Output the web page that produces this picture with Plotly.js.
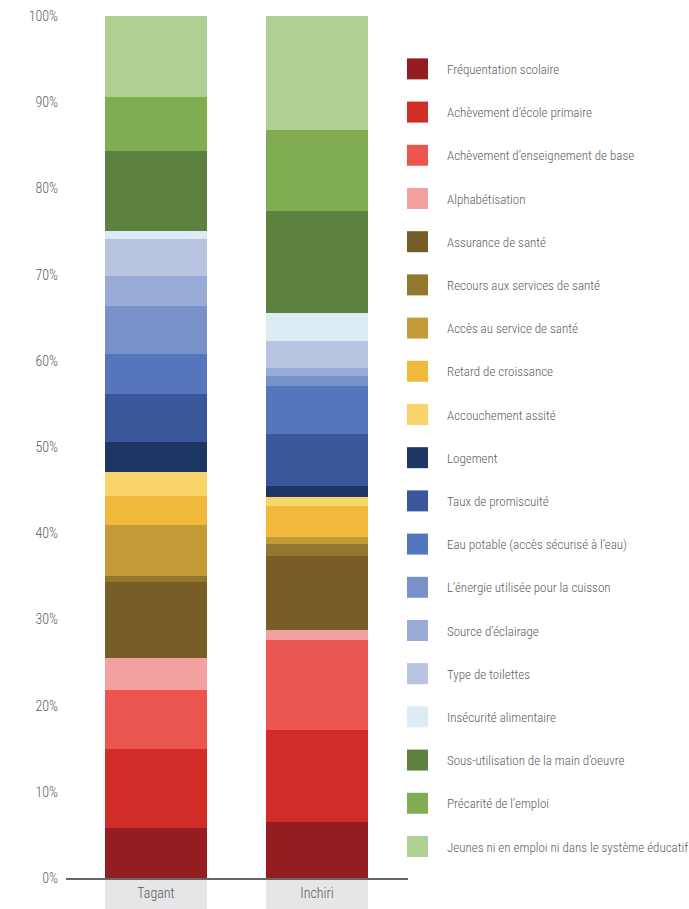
<!DOCTYPE html>
<html>
<head>
<meta charset="utf-8">
<script src="https://cdn.plot.ly/plotly-3.0.1.min.js"></script>
<style>
  html, body { margin: 0; padding: 0; background: #fff; }
  #chart { width: 689px; height: 909px; }
</style>
</head>
<body>
<div id="chart"></div>
<script>
// Categories (regions)
const regions = ['Tagant', 'Inchiri'];

// Indicator names (stack order bottom -> top)
const indicators = [
  'Fréquentation scolaire',
  'Achèvement d’école primaire',
  'Achèvement d’enseignement de base',
  'Alphabétisation',
  'Assurance de santé',
  'Recours aux services de santé',
  'Accès au service de santé',
  'Retard de croissance',
  'Accouchement assité',
  'Logement',
  'Taux de promiscuité',
  'Eau potable (accès sécurisé à l’eau)',
  'L’énergie utilisée pour la cuisson',
  'Source d’éclairage',
  'Type de toilettes',
  'Insécurité alimentaire',
  'Sous-utilisation de la main d’oeuvre',
  'Précarité de l’emploi',
  'Jeunes ni en emploi ni dans le système éducatif'
];

// Contributions (%) per indicator, same order as indicators
const tagantValues = [5.8, 9.17, 6.84, 3.71, 8.82, 0.70, 5.92, 3.36, 2.78, 3.48,
                      5.57, 4.64, 5.57, 3.48, 4.29, 0.96, 9.28, 6.27, 9.36];
const inchiriValues = [6.50, 10.67, 10.44, 1.16, 8.58, 1.39, 0.81, 3.60, 1.04, 1.28,
                       6.03, 5.57, 1.16, 0.93, 3.13, 3.25, 11.83, 9.40, 13.23];

const colors = ['#931d20', '#d12c27', '#ec5650', '#f2a0a0', '#775e27', '#93772f',
                '#c39a35', '#f1b93b', '#f7d56a', '#1e3663', '#39579a', '#5576bd',
                '#7891c8', '#98aad6', '#b8c4e0', '#ddebf5', '#5d823f', '#80ad52', '#b0d093'];

const yTickVals = [0, 10, 20, 30, 40, 50, 60, 70, 80, 90, 100];
const yTickText = ['0%', '10%', '20%', '30%', '40%', '50%', '60%', '70%', '80%', '90%', '100%'];

const barWidth = 0.634;
const FONT = '"Roboto Condensed", "Liberation Sans Narrow", Roboto, sans-serif';
const TEXT = '#5c5c5c';

const traces = indicators.map((name, i) => ({
  type: 'bar',
  name: name,
  x: regions,
  y: [tagantValues[i], inchiriValues[i]],
  width: barWidth,
  legendgroup: 'g' + i,
  marker: { color: colors[i], line: { width: 0 } },
  hoverinfo: 'name+y'
}));

const shapes = regions.map((r, i) => ({
  type: 'rect', layer: 'below',
  xref: 'x', yref: 'paper',
  x0: i - barWidth / 2, x1: i + barWidth / 2,
  y0: -0.04, y1: 0,
  fillcolor: '#e5e6e8', line: { width: 0 }
}));

const layout = {
  width: 689, height: 909,
  margin: { l: 66, r: 281, t: 16, b: 31, autoexpand: false },
  paper_bgcolor: '#ffffff', plot_bgcolor: '#ffffff',
  barmode: 'stack',
  font: { family: FONT, color: TEXT, size: 13, weight: 300 },
  showlegend: true,
  legend: {
    x: 0.9415, xanchor: 'left',
    y: 0.956, yanchor: 'top',
    traceorder: 'grouped',
    tracegroupgap: 23.3,
    itemwidth: 49,
    font: { family: FONT, size: 13, color: TEXT, weight: 300 },
    bgcolor: 'rgba(0,0,0,0)',
    borderwidth: 0
  },
  xaxis: {
    type: 'category',
    range: [-0.559, 1.565],
    showline: true, linecolor: '#666666', linewidth: 1.5,
    showgrid: false, zeroline: false, ticks: '',
    tickfont: { family: FONT, size: 14, color: TEXT, weight: 300 },
    ticklabelstandoff: 2,
    fixedrange: true
  },
  yaxis: {
    range: [0, 100],
    tickvals: yTickVals, ticktext: yTickText,
    showline: false, showgrid: false, zeroline: false, ticks: '',
    tickfont: { family: FONT, size: 14, color: TEXT, weight: 300 },
    ticklabelstandoff: 7,
    fixedrange: true
  },
  shapes: shapes
};

function enlargeSwatches() {
  document.querySelectorAll('#chart .legend .legendpoints path').forEach(p => {
    p.setAttribute('d', 'M10.5,10.5H-10.5V-10.5H10.5Z');
  });
}

Plotly.newPlot('chart', traces, layout, { displayModeBar: false, staticPlot: true }).then(gd => {
  enlargeSwatches();
  gd.on('plotly_afterplot', enlargeSwatches);
});
</script>
</body>
</html>
